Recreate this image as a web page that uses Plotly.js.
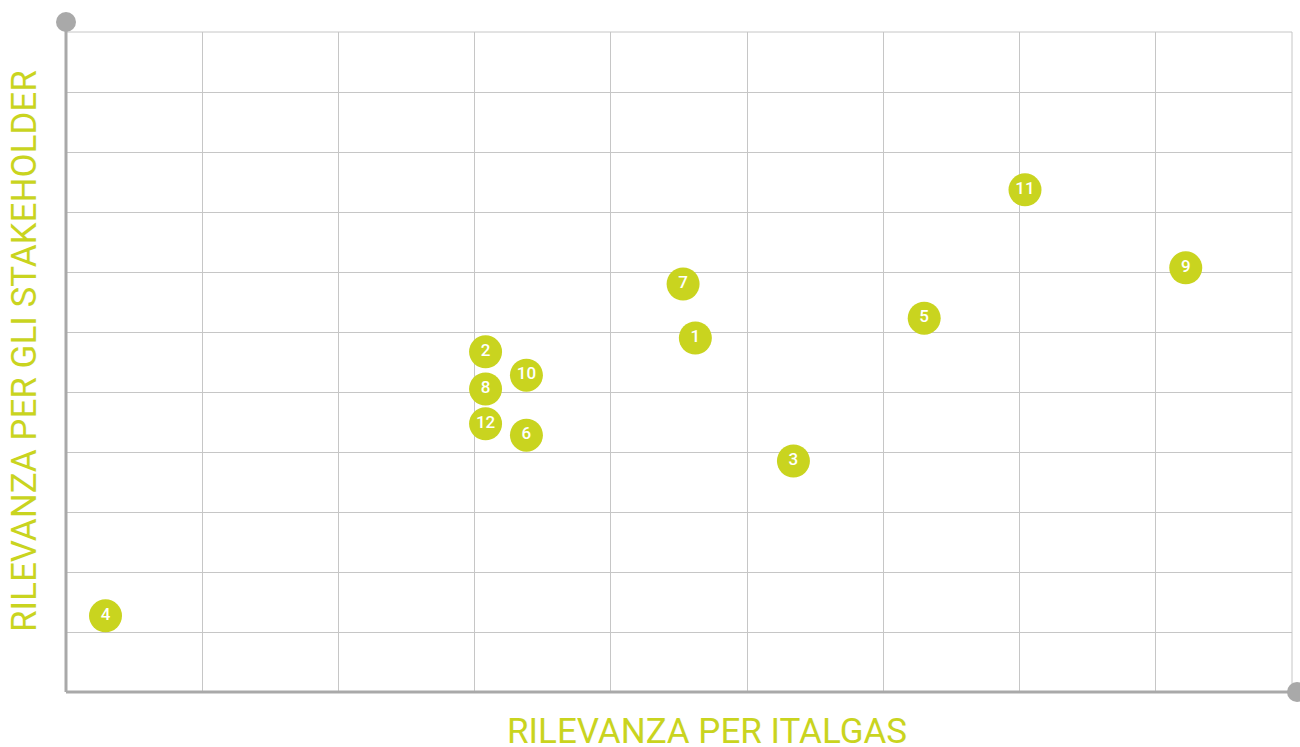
<!DOCTYPE html>
<html>
<head>
<meta charset="utf-8">
<script src="https://cdn.plot.ly/plotly-3.0.1.min.js"></script>
<style>html,body{margin:0;padding:0;background:#fff;}#chart{width:1300px;height:747px;}</style>
</head>
<body>
<div id="chart"></div>
<script>
const labels = ["1","2","3","4","5","6","7","8","9","10","11","12"];
const rilevanzaItalgas = [4.62, 3.08, 5.34, 0.29, 6.30, 3.38, 4.53, 3.08, 8.22, 3.38, 7.04, 3.08];
const rilevanzaStakeholder = [5.90, 5.67, 3.85, 1.27, 6.23, 4.28, 6.80, 5.05, 7.07, 5.28, 8.37, 4.47];
const xTitle = "RILEVANZA PER ITALGAS";
const yTitle = "RILEVANZA PER GLI STAKEHOLDER";

const green = "#c9d41f";
const axisGray = "#a9a9a9";

const trace = {
  x: rilevanzaItalgas,
  y: rilevanzaStakeholder,
  text: labels,
  mode: "markers+text",
  type: "scatter",
  textposition: "middle center",
  textfont: {family: "Roboto", size: 17, color: "#ffffff", weight: 500},
  marker: {size: 33, color: green, line: {width: 0}},
  hoverinfo: "skip",
  cliponaxis: false
};

const layout = {
  width: 1300, height: 747,
  margin: {l: 66, r: 8, t: 32, b: 55, pad: 0},
  paper_bgcolor: "#ffffff", plot_bgcolor: "#ffffff",
  showlegend: false,
  xaxis: {range: [0, 9], dtick: 1, tick0: 0, showticklabels: false, ticks: "",
          showgrid: true, gridcolor: "#c6c6c6", gridwidth: 1, zeroline: false, showline: false, fixedrange: true},
  yaxis: {range: [0, 11], dtick: 1, tick0: 0, showticklabels: false, ticks: "",
          showgrid: true, gridcolor: "#c6c6c6", gridwidth: 1, zeroline: false, showline: false, fixedrange: true},
  shapes: [
    {type: "line", xref: "paper", yref: "paper", x0: 0, x1: 1, y0: 1, y1: 1, line: {color: "#c6c6c6", width: 1}, layer: "below"},
    {type: "line", xref: "paper", yref: "paper", x0: 1, x1: 1, y0: 0, y1: 1, line: {color: "#c6c6c6", width: 1}, layer: "below"},
    {type: "line", xref: "paper", yref: "paper", x0: 0, x1: 0, y0: 0, y1: 1 + 10/660, line: {color: axisGray, width: 3}},
    {type: "line", xref: "paper", yref: "paper", x0: 0, x1: 1 + 5/1226, y0: 0, y1: 0, line: {color: axisGray, width: 3}},
    {type: "circle", xref: "paper", yref: "paper", xsizemode: "pixel", ysizemode: "pixel",
     xanchor: 0, yanchor: 1 + 10/660, x0: -10, x1: 10, y0: -10, y1: 10, fillcolor: axisGray, line: {width: 0}},
    {type: "circle", xref: "paper", yref: "paper", xsizemode: "pixel", ysizemode: "pixel",
     xanchor: 1 + 5/1226, yanchor: 0, x0: -10, x1: 10, y0: -10, y1: 10, fillcolor: axisGray, line: {width: 0}}
  ],
  annotations: [
    {text: xTitle, xref: "paper", yref: "paper", x: (707 - 66) / 1226, y: (692 - 731) / 660,
     xanchor: "center", yanchor: "middle", showarrow: false,
     font: {family: "Roboto", size: 35, color: green, weight: 400}},
    {text: yTitle, xref: "paper", yref: "paper", x: (25 - 66) / 1226, y: (692 - 351) / 660,
     xanchor: "center", yanchor: "middle", showarrow: false, textangle: -90,
     font: {family: "Roboto", size: 35, color: green, weight: 400}}
  ]
};

Plotly.newPlot("chart", [trace], layout, {displayModeBar: false, staticPlot: true});
</script>
</body>
</html>
